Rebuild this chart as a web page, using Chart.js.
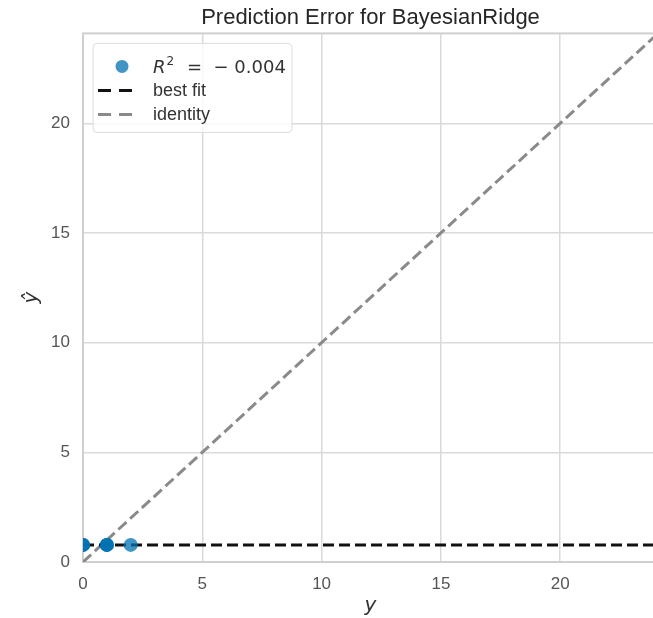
<!DOCTYPE html>
<html>
<head>
<meta charset="utf-8">
<title>Prediction Error for BayesianRidge</title>
<script src="https://cdn.jsdelivr.net/npm/chart.js@4"></script>
<style>
  html, body { margin: 0; padding: 0; background: #fff; overflow: hidden; width: 653px; height: 618px; }
  #wrap { width: 665px; height: 618px; }
</style>
</head>
<body>
<div id="wrap"><canvas id="c" width="665" height="618"></canvas></div>
<script>
// Observed targets (y) and model predictions (y-hat)
const actualY    = [0, 0, 0, 1, 1, 1, 2];
const predictedY = [0.78, 0.78, 0.78, 0.78, 0.78, 0.78, 0.78];

// Fitted line through (y, y-hat) and the identity reference line
const bestFitX  = [0, 24.1];
const bestFitY  = [0.78, 0.78];
const identityX = [0, 24.1];
const identityY = [0, 24.1];

// Shared axis range and tick marks
const axisLimits = [0, 24.1];
const tickValues = [0, 5, 10, 15, 20];

const r2Score = -0.004;

const toPoints = (xs, ys) => xs.map((x, i) => ({ x: x, y: ys[i] }));

const GRID = '#dadada';
const TICK_COLOR = '#555555';

// Framed legend drawn inside the upper-left corner of the plot
const legendBox = {
  id: 'legendBox',
  afterDatasetsDraw(chart) {
    const ctx = chart.ctx;
    const a = chart.chartArea;
    const bx = a.left + 10, by = a.top + 10, bw = 199, bh = 89;
    ctx.save();
    ctx.beginPath();
    ctx.roundRect(bx, by, bw, bh, 4);
    ctx.fillStyle = 'rgba(255,255,255,0.8)';
    ctx.fill();
    ctx.strokeStyle = '#dcdcdc';
    ctx.lineWidth = 1;
    ctx.stroke();

    const textX = bx + 60;
    const rows = [by + 23, by + 47, by + 71];
    chart.data.datasets.forEach((ds, i) => {
      const ry = rows[i];
      if (ds.type === 'scatter') {
        ctx.beginPath();
        ctx.arc(bx + 29, ry, 6.5, 0, Math.PI * 2);
        ctx.fillStyle = ds.backgroundColor;
        ctx.fill();
        // "R² = − 0.004"
        ctx.fillStyle = '#333';
        ctx.textBaseline = 'alphabetic';
        ctx.textAlign = 'left';
        ctx.font = 'italic 18px "DejaVu Sans"';
        ctx.fillText('R', textX, ry + 7);
        const rw = ctx.measureText('R').width;
        ctx.font = '12px "DejaVu Sans"';
        ctx.fillText('2', textX + rw + 1, ry - 1);
        ctx.font = '18px "DejaVu Sans"';
        const val = Math.abs(r2Score).toFixed(3);
        ctx.fillText('=  \u2212 ' + val, textX + 34, ry + 7);
      } else {
        ctx.beginPath();
        ctx.setLineDash([13, 8]);
        ctx.moveTo(bx + 5, ry);
        ctx.lineTo(bx + 42, ry);
        ctx.strokeStyle = ds.borderColor;
        ctx.lineWidth = 3;
        ctx.stroke();
        ctx.setLineDash([]);
        ctx.fillStyle = '#333';
        ctx.font = '18px "Liberation Sans", Arial, sans-serif';
        ctx.textBaseline = 'middle';
        ctx.textAlign = 'left';
        ctx.fillText(ds.label, textX, ry + 1);
      }
    });
    ctx.restore();
  }
};

// Light frame around the plotting area
const frame = {
  id: 'frame',
  beforeDatasetsDraw(chart) {
    const ctx = chart.ctx;
    const a = chart.chartArea;
    ctx.save();
    ctx.strokeStyle = '#cfcfcf';
    ctx.lineWidth = 2;
    ctx.strokeRect(a.left, a.top, a.right - a.left, a.bottom - a.top);
    ctx.restore();
  }
};

const fixedTicks = scale => { scale.ticks = tickValues.map(v => ({ value: v })); };

new Chart(document.getElementById('c'), {
  data: {
    datasets: [
      {
        type: 'scatter',
        label: 'R2',
        data: toPoints(actualY, predictedY),
        backgroundColor: 'rgba(0,114,178,0.75)',
        borderWidth: 0,
        pointRadius: 7,
        order: 0
      },
      {
        type: 'line',
        label: 'best fit',
        data: toPoints(bestFitX, bestFitY),
        borderColor: '#111111',
        borderWidth: 3,
        borderDash: [11, 5],
        pointRadius: 0,
        fill: false,
        order: 1
      },
      {
        type: 'line',
        label: 'identity',
        data: toPoints(identityX, identityY),
        borderColor: '#8a8a8a',
        borderWidth: 3,
        borderDash: [11, 5],
        pointRadius: 0,
        fill: false,
        order: 2
      }
    ]
  },
  options: {
    responsive: false,
    devicePixelRatio: 1,
    animation: false,
    events: [],
    layout: { padding: { right: 2, left: 0, top: 0, bottom: 0 } },
    plugins: {
      legend: { display: false },
      tooltip: { enabled: false },
      title: {
        display: true,
        fullSize: false,
        text: 'Prediction Error for BayesianRidge',
        color: '#262626',
        font: { family: '"Liberation Sans", Arial, sans-serif', size: 22, weight: 'normal' },
        padding: { top: 5, bottom: 2 }
      }
    },
    scales: {
      x: {
        type: 'linear',
        position: 'bottom',
        min: axisLimits[0],
        max: axisLimits[1],
        afterBuildTicks: fixedTicks,
        afterFit: s => { s.height = 56; },
        grid: { color: GRID, lineWidth: 1.5, drawTicks: false },
        border: { display: false },
        ticks: {
          color: TICK_COLOR,
          padding: 12,
          maxRotation: 0,
          font: { family: '"Liberation Sans", Arial, sans-serif', size: 17 }
        },
        title: {
          display: true,
          text: 'y',
          color: '#333',
          font: { family: '"DejaVu Sans"', size: 20, style: 'italic' },
          padding: { top: 0, bottom: 0 }
        }
      },
      y: {
        type: 'linear',
        position: 'left',
        min: axisLimits[0],
        max: axisLimits[1],
        afterBuildTicks: fixedTicks,
        afterFit: s => { s.width = 83; },
        grid: { color: GRID, lineWidth: 1.5, drawTicks: false },
        border: { display: false },
        ticks: {
          color: TICK_COLOR,
          padding: 13,
          font: { family: '"Liberation Sans", Arial, sans-serif', size: 17 }
        },
        title: {
          display: true,
          text: 'ŷ',
          color: '#333',
          font: { family: '"DejaVu Sans"', size: 20, style: 'italic' },
          padding: { top: 20, bottom: 0 }
        }
      }
    }
  },
  plugins: [frame, legendBox]
});
</script>
</body>
</html>
